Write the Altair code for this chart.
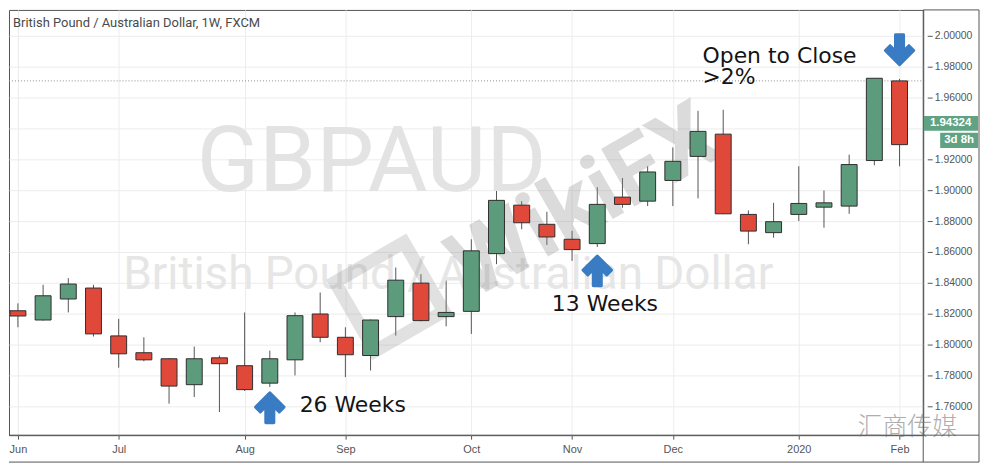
import altair as alt
import pandas as pd

# ---------------- data ----------------
dates = ["2019-06-03", "2019-06-10", "2019-06-17", "2019-06-24", "2019-07-01", "2019-07-08",
         "2019-07-15", "2019-07-22", "2019-07-29", "2019-08-05", "2019-08-12", "2019-08-19",
         "2019-08-26", "2019-09-02", "2019-09-09", "2019-09-16", "2019-09-23", "2019-09-30",
         "2019-10-07", "2019-10-14", "2019-10-21", "2019-10-28", "2019-11-04", "2019-11-11",
         "2019-11-18", "2019-11-25", "2019-12-02", "2019-12-09", "2019-12-16", "2019-12-23",
         "2019-12-30", "2020-01-06", "2020-01-13", "2020-01-20", "2020-01-27", "2020-02-03"]
opens = [1.8219, 1.8159, 1.8295, 1.8366, 1.8056, 1.7947, 1.7908, 1.7740, 1.7914, 1.7863,
         1.7750, 1.7901, 1.8198, 1.8047, 1.7929, 1.8181, 1.8398, 1.8181, 1.8215, 1.8589,
         1.8903, 1.8779, 1.8682, 1.8654, 1.8955, 1.8929, 1.9063, 1.9219, 1.9363, 1.8843,
         1.8725, 1.8843, 1.8890, 1.8897, 1.9192, 1.9708]
highs = [1.8267, 1.8387, 1.8430, 1.8387, 1.8166, 1.8047, 1.7912, 1.7987, 1.7929, 1.8208,
         1.7961, 1.8208, 1.8337, 1.8112, 1.8162, 1.8499, 1.8456, 1.8434, 1.8682, 1.9097,
         1.8929, 1.8860, 1.8736, 1.9019, 1.9079, 1.9155, 1.9277, 1.9514, 1.9521, 1.8869,
         1.8918, 1.9155, 1.8998, 1.9230, 1.9725, 1.9721]
lows = [1.8112, 1.8155, 1.8208, 1.8052, 1.7850, 1.7892, 1.7617, 1.7660, 1.7563, 1.7700,
        1.7725, 1.7800, 1.8015, 1.7789, 1.7832, 1.8058, 1.8150, 1.8118, 1.8069, 1.8521,
        1.8747, 1.8645, 1.8542, 1.8632, 1.8886, 1.8897, 1.8897, 1.8947, 1.8845, 1.8650,
        1.8692, 1.8800, 1.8757, 1.8847, 1.9161, 1.9155]
closes = [1.8185, 1.8316, 1.8392, 1.8069, 1.7940, 1.7901, 1.7731, 1.7908, 1.7876, 1.7708,
          1.7908, 1.8187, 1.8047, 1.7934, 1.8159, 1.8417, 1.8155, 1.8208, 1.8607, 1.8934,
          1.8789, 1.8697, 1.8615, 1.8908, 1.8908, 1.9118, 1.9187, 1.9381, 1.8847, 1.8735,
          1.8796, 1.8914, 1.8918, 1.9166, 1.9725, 1.9295]

price_ticks = [1.76, 1.78, 1.80, 1.82, 1.84, 1.86, 1.88, 1.90, 1.92, 1.94, 1.96, 1.98, 2.00]
# first weekly bar of each month (where the month labels sit)
month_ticks = [(2019, 6, 3), (2019, 7, 1), (2019, 8, 5), (2019, 9, 2), (2019, 10, 7),
               (2019, 11, 4), (2019, 12, 2), (2020, 1, 6), (2020, 2, 3)]

arrow_dates = ["2019-08-12", "2019-11-11", "2020-02-03"]
arrow_prices = [1.7590, 1.8477, 1.9910]
arrow_angles = [0, 0, 180]

note_texts = ["26 Weeks", "13 Weeks", "Open to Close", ">2%"]
note_dates = ["2019-08-20T07:00:00Z", "2019-10-29T09:00:00Z", "2019-12-10T06:00:00Z", "2019-12-10T06:00:00Z"]
note_prices = [1.7561, 1.8219, 1.9826, 1.9690]

last_price = [1.94324]
last_price_text = ["1.94324"]
time_left = ["3d 8h"]

title_text = "British Pound / Australian Dollar, 1W, FXCM"
wm_symbol = "GBPAUD"
wm_desc = "British Pound / Australian Dollar"

# ---------------- styling ----------------
GREEN = "#5c9c7c"
RED = "#e0493a"
BLUE = "#3a7cc3"
FRAME = "#555555"
GRID = "#ececec"
W, H = 918, 427

candles = pd.DataFrame({"date": dates, "open": opens, "high": highs, "low": lows, "close": closes})
arrows = pd.DataFrame({"date": arrow_dates, "price": arrow_prices, "angle": arrow_angles})
notes = pd.DataFrame({"date": note_dates, "price": note_prices, "label": note_texts})
lastdf = pd.DataFrame({"price": last_price, "txt": last_price_text, "left": time_left})
dummy = pd.DataFrame({"k": [0]})

xscale = alt.Scale(type="utc",
                   domain=[alt.DateTime(year=2019, month=6, date=1, hours=21, minutes=43, utc=True),
                           alt.DateTime(year=2020, month=2, date=8, hours=4, minutes=50, utc=True)])
yscale = alt.Scale(domain=[1.74129, 2.01677], nice=False, zero=False)

xaxis = alt.Axis(values=[alt.DateTime(year=y, month=m, date=d, utc=True) for (y, m, d) in month_ticks],
                 labelExpr="utcmonth(datum.value) == 0 ? utcFormat(datum.value, '%Y') : utcFormat(datum.value, '%b')",
                 domain=False, tickSize=4, tickColor=FRAME, labelColor="#555555",
                 labelFont="Liberation Sans", labelFontSize=11, labelPadding=4,
                 labelFlush=5, labelFlushOffset=5,
                 grid=True, gridColor=GRID, title=None)
# the 1.94 label sits under the last-price tag, so it is left blank
yaxis = alt.Axis(orient="right", values=price_ticks,
                 labelExpr="abs(datum.value - 1.94) < 0.001 ? '' : format(datum.value, '.5f')",
                 domain=False, offset=4,
                 tickSize=5, tickColor=FRAME, labelColor="#555555", labelFont="Liberation Sans",
                 labelFontSize=10.5, labelPadding=2, grid=True, gridColor=GRID, title=None)


def X(field):
    return alt.X(field, scale=xscale, axis=xaxis)


def Y(field):
    return alt.Y(field, scale=yscale, axis=yaxis)


# watermarks
wm1 = alt.Chart(dummy).mark_text(text=wm_symbol, font="Roboto", fontSize=92, color="#e3e3e3",
                                 align="center", baseline="alphabetic").encode(
    x=alt.value(364), y=alt.value(182))
wm2 = alt.Chart(dummy).mark_text(text=wm_desc, font="Roboto", fontSize=46, color="#e6e6e6",
                                 align="center", baseline="alphabetic").encode(
    x=alt.value(441), y=alt.value(280))
wm3 = alt.Chart(dummy).mark_text(text="WikiFX", font="Roboto", fontWeight="bold", fontSize=94,
                                 color="#8a8a8a", opacity=0.3, angle=330,
                                 align="center", baseline="middle").encode(
    x=alt.value(578), y=alt.value(194))
wm4 = alt.Chart(dummy).mark_point(shape="square", size=6400, filled=False, stroke="#8a8a8a",
                                  strokeWidth=13, opacity=0.25, angle=330).encode(
    x=alt.value(382), y=alt.value(288))
wm5 = alt.Chart(dummy).mark_text(text="汇商传媒", font="Noto Sans CJK SC", fontWeight=300, fontSize=25,
                                 color="#9a9a9a", opacity=0.8, align="center", baseline="middle").encode(
    x=alt.value(902), y=alt.value(419))

# dotted line at the last bar's open
lastopen = alt.Chart(candles).transform_window(
    rank="row_number()", sort=[alt.SortField("date", order="descending")]
).transform_filter("datum.rank == 1").mark_rule(color="#8c8c8c", strokeDash=[1, 2], strokeWidth=1).encode(
    y=Y("open:Q"), x=alt.value(0), x2=alt.value(W))

base = alt.Chart(candles)
wicks = base.mark_rule(color="#555555", strokeWidth=1).encode(
    x=X("date:T"), y=Y("low:Q"), y2="high:Q")
bodies = base.mark_bar(size=16, stroke="#2e2e2e", strokeWidth=1).encode(
    x=X("date:T"), y=Y("open:Q"), y2="close:Q",
    fill=alt.condition("datum.close >= datum.open", alt.value(GREEN), alt.value(RED)))

arrow_path = ("M0,-1 L0.95,-0.05 L0.632,0.268 L0.27,-0.094 L0.27,1 L-0.27,1 "
              "L-0.27,-0.094 L-0.632,0.268 L-0.95,-0.05 Z")
arrow_layer = alt.Chart(arrows).mark_point(shape=arrow_path, size=900, filled=True, color=BLUE,
                                           stroke=BLUE, strokeWidth=3, strokeJoin="round",
                                           opacity=1).encode(
    x=X("date:T"), y=Y("price:Q"), angle=alt.Angle("angle:Q", scale=None))

note_layer = alt.Chart(notes).mark_text(font="DejaVu Sans", fontSize=22, color="#141414",
                                        align="left", baseline="alphabetic").encode(
    x=X("date:T"), y=Y("price:Q"), text="label:N")

title_layer = alt.Chart(dummy).mark_text(text=title_text, font="Roboto", fontSize=13, color="#4a4a4a",
                                         align="left", baseline="alphabetic").encode(
    x=alt.value(4), y=alt.value(17))

# last price tag on the price scale
box1 = alt.Chart(lastdf).mark_point(shape="M-1,-0.27 L1,-0.27 L1,0.27 L-1,0.27 Z", size=3025,
                                    filled=True, color="#5fa383", opacity=1).encode(
    x=alt.value(945.5), y=Y("price:Q"))
box2 = alt.Chart(lastdf).mark_point(shape="M-1,-0.4 L1,-0.4 L1,0.4 L-1,0.4 Z", size=1444,
                                    filled=True, color="#5fa383", opacity=1, yOffset=17).encode(
    x=alt.value(954), y=Y("price:Q"))
txt1 = alt.Chart(lastdf).mark_text(font="Liberation Sans", fontSize=11.5, fontWeight="bold",
                                   color="white", align="center", baseline="middle").encode(
    x=alt.value(945.5), y=Y("price:Q"), text="txt:N")
txt2 = alt.Chart(lastdf).mark_text(font="Liberation Sans", fontSize=11.5, fontWeight="bold",
                                   color="white", align="center", baseline="middle", yOffset=17).encode(
    x=alt.value(954), y=Y("price:Q"), text="left:N")

# frame lines
f1 = alt.Chart(dummy).mark_rule(color=FRAME, strokeWidth=1).encode(
    x=alt.value(0), x2=alt.value(974), y=alt.value(H))
f2 = alt.Chart(dummy).mark_rule(color=FRAME, strokeWidth=1).encode(
    x=alt.value(W), y=alt.value(0), y2=alt.value(454))
f3 = alt.Chart(dummy).mark_rule(color=FRAME, strokeWidth=1).encode(
    x=alt.value(974), y=alt.value(0), y2=alt.value(454))
f4 = alt.Chart(dummy).mark_rule(color=FRAME, strokeWidth=1).encode(
    x=alt.value(0), x2=alt.value(974), y=alt.value(454))
f5 = alt.Chart(dummy).mark_rule(color=FRAME, strokeWidth=1).encode(
    x=alt.value(W), x2=alt.value(974), y=alt.value(0))

chart = alt.layer(
    wicks, wm1, wm2, wm3, wm4, lastopen, bodies, arrow_layer, note_layer, title_layer,
    wm5, box1, box2, txt1, txt2, f1, f2, f3, f4, f5
).properties(
    width=W, height=H, padding={"left": 0, "top": 0, "right": 0, "bottom": 0},
    background="white"
).configure_view(stroke=FRAME, strokeWidth=1)

chart.save("out.html", embed_options={"renderer": "svg", "actions": False})
